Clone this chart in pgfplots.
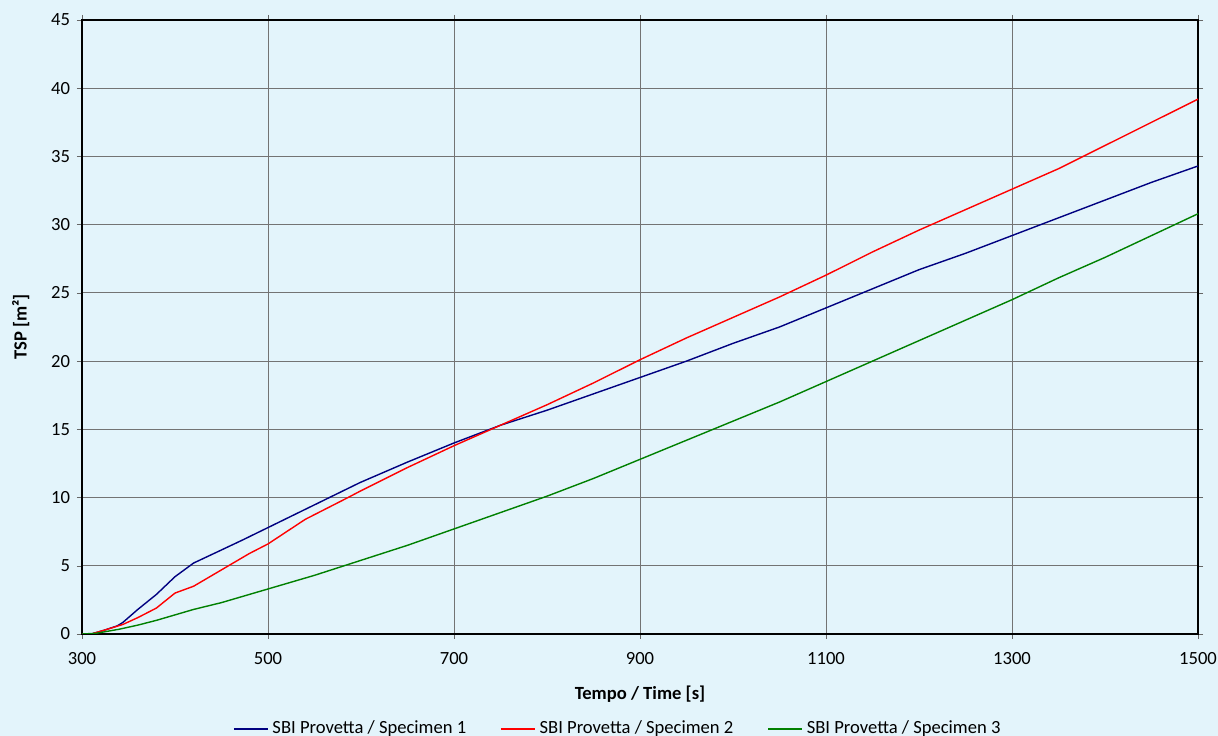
\documentclass[border=0pt]{standalone}
\usepackage{pgfplots}
\pgfplotsset{compat=1.18}
\usepackage{fontspec}
\setmainfont{Carlito}
\usetikzlibrary{backgrounds}
\definecolor{bg}{HTML}{E3F4FB}
\definecolor{s1}{HTML}{000080}
\definecolor{s2}{HTML}{FF0000}
\definecolor{s3}{HTML}{008000}
\begin{document}
\begin{tikzpicture}[font=\fontsize{9.3}{11}\selectfont]
\begin{axis}[
  scale only axis, width=558pt, height=307pt,
  xmin=300, xmax=1500, ymin=0, ymax=45,
  xtick={300,500,...,1500}, ytick={0,5,...,45},
  /pgf/number format/assume math mode=true,
  /pgf/number format/1000 sep={},
  grid=major, major grid style={black!55, line width=0.5pt},
  axis line style={black, line width=0.8pt},
  tick align=outside, major tick length=2.5pt,
  tick style={black!60},
  xticklabel style={yshift=-3pt},
  xlabel={\textbf{Tempo / Time [s]}},
  ylabel={\textbf{TSP [m²]}},
  xlabel style={yshift=-4pt},
  ylabel style={yshift=4pt},
  legend columns=3,
  legend style={draw=none, fill=none, at={(0.481,-0.128)}, anchor=north,
    /tikz/every even column/.append style={column sep=15pt}, font=\fontsize{9.3}{11}\selectfont},
  legend image code/.code={\draw[#1] (0pt,0pt) -- (17pt,0pt);},
  every axis plot/.append style={line width=0.7pt},
]
\addplot[s1] coordinates {
(300,0) (310,0) (325,0.3) (338,0.6) (344,0.85) (360,1.8) (380,2.9) (400,4.2) (420,5.2) (445,6.0) (473,6.9) (500,7.8) (527,8.7) (563,9.9) (599,11.1) (650,12.6) (700,14.0) (750,15.3) (800,16.4) (850,17.6) (900,18.8) (950,20.0) (1000,21.3) (1050,22.5) (1100,23.9) (1150,25.3) (1200,26.7) (1250,27.9) (1300,29.2) (1350,30.5) (1400,31.8) (1450,33.1) (1500,34.3)
};
\addlegendentry{SBI Provetta / Specimen 1}
\addplot[s2] coordinates {
(300,0) (310,0) (325,0.3) (344,0.7) (360,1.2) (380,1.9) (400,3.0) (420,3.5) (450,4.7) (480,5.9) (500,6.6) (540,8.4) (586,10.0) (600,10.5) (650,12.2) (700,13.8) (750,15.3) (800,16.8) (850,18.4) (900,20.1) (950,21.7) (1000,23.2) (1050,24.7) (1100,26.3) (1150,28.0) (1200,29.6) (1250,31.1) (1300,32.6) (1350,34.1) (1400,35.8) (1450,37.5) (1500,39.2)
};
\addlegendentry{SBI Provetta / Specimen 2}
\addplot[s3] coordinates {
(300,0) (315,0.05) (340,0.35) (360,0.65) (380,1.0) (400,1.4) (420,1.8) (450,2.3) (500,3.3) (550,4.3) (600,5.4) (650,6.5) (700,7.7) (750,8.9) (800,10.1) (850,11.4) (900,12.8) (950,14.2) (1000,15.6) (1050,17.0) (1100,18.5) (1150,20.0) (1200,21.5) (1250,23.0) (1300,24.5) (1350,26.1) (1400,27.6) (1450,29.2) (1500,30.8)
};
\addlegendentry{SBI Provetta / Specimen 3}
\end{axis}
\pgfresetboundingbox
\path[use as bounding box] ([xshift=-41pt,yshift=-51pt]current axis.south west) rectangle ([xshift=10pt,yshift=10pt]current axis.north east);
\begin{scope}[on background layer]
\fill[bg] ([xshift=-41pt,yshift=-51pt]current axis.south west) rectangle ([xshift=10pt,yshift=10pt]current axis.north east);
\end{scope}
\end{tikzpicture}
\end{document}
